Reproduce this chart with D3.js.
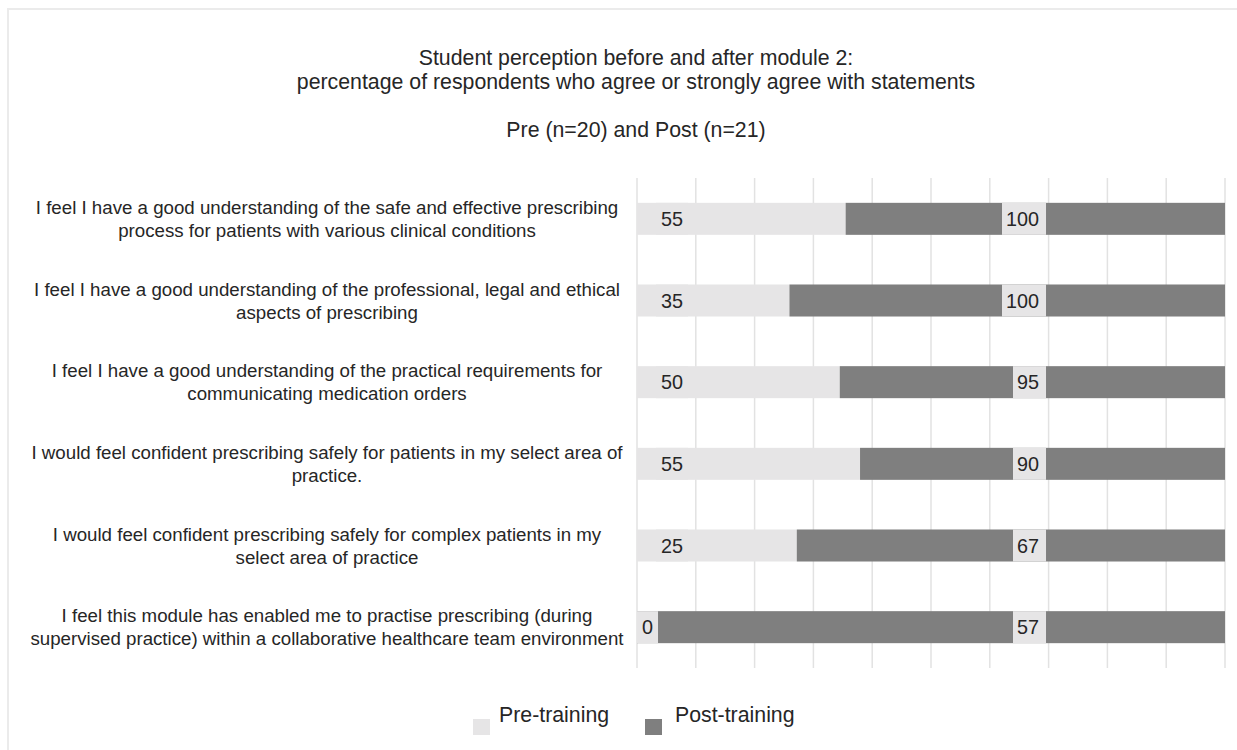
<!DOCTYPE html>
<html>
<head>
<meta charset="utf-8">
<script src="https://cdn.jsdelivr.net/npm/d3@7"></script>
<style>
	body { margin: 0; background: #fff; }
	svg { font-family: "Liberation Sans", Arial, sans-serif; }
	.title { font-size: 21.3px; fill: #262626; }
	.catLabel { font-size: 18.7px; fill: #262626; }
	.valLabel { font-size: 19.8px; fill: #262626; }
	.legendText { font-size: 21.3px; fill: #262626; }
	.grid { stroke: #e2e2e2; stroke-width: 1.5; }
</style>
</head>
<body>
<svg id="chart" width="1237" height="750"></svg>
<script>
// statements (line breaks as in the original chart)
var categories = [
	"I feel I have a good understanding of the safe and effective prescribing\nprocess for patients with various clinical conditions",
	"I feel I have a good understanding of the professional, legal and ethical\naspects of prescribing",
	"I feel I have a good understanding of the practical requirements for\ncommunicating medication orders",
	"I would feel confident prescribing safely for patients in my select area of\npractice.",
	"I would feel confident prescribing safely for complex patients in my\nselect area of practice",
	"I feel this module has enabled me to practise prescribing (during\nsupervised practice) within a collaborative healthcare team environment"
];
var preValues  = [55, 35, 50, 55, 25, 0];
var postValues = [100, 100, 95, 90, 67, 57];
var seriesNames = ["Pre-training", "Post-training"];
var titleLines = [
	"Student perception before and after module 2:",
	"percentage of respondents who agree or strongly agree with statements",
	"Pre (n=20) and Post (n=21)"
];

var preColor = '#e6e5e6',
	postColor = '#7f7f7f';

var svg = d3.select('#chart');

// outer frame
svg.append('rect')
	.attr('x', 8)
	.attr('y', 9)
	.attr('width', 1240)
	.attr('height', 760)
	.attr('fill', 'none')
	.attr('stroke', '#ebebeb')
	.attr('stroke-width', 2);

// title
svg.selectAll('text.title')
	.data(titleLines)
	.enter()
	.append('text')
	.attr('class', 'title')
	.attr('x', 636)
	.attr('y', (d, i) => [65, 89, 137][i])
	.attr('text-anchor', 'middle')
	.text(d => d);

var rows = categories.map(function(c, i) {
	var total = preValues[i] + postValues[i];
	return {cat: c, pre: preValues[i], post: postValues[i], preShare: preValues[i] / total};
});

// 100% stacked scale
var x = d3.scaleLinear()
	.domain([0, 1])
	.range([637, 1225]);

var y = d3.scaleBand()
	.domain(categories)
	.range([178, 668])
	.paddingInner(0.608)
	.paddingOuter(0.304);

// gridlines
svg.selectAll('line.grid')
	.data(x.ticks(10))
	.enter()
	.append('line')
	.attr('class', 'grid')
	.attr('x1', d => x(d))
	.attr('x2', d => x(d))
	.attr('y1', 178)
	.attr('y2', 668);

var rowG = svg.selectAll('g.row')
	.data(rows)
	.enter()
	.append('g')
	.attr('class', 'row')
	.attr('transform', d => `translate(0,${y(d.cat)})`);

rowG.append('rect')
	.attr('x', x(0))
	.attr('width', d => x(d.preShare) - x(0))
	.attr('height', y.bandwidth())
	.attr('fill', preColor);

rowG.append('rect')
	.attr('x', d => x(d.preShare))
	.attr('width', d => x(1) - x(d.preShare))
	.attr('height', y.bandwidth())
	.attr('fill', postColor);

// pre labels (inside base)
var preLab = rowG.append('g');
preLab.append('rect')
	.attr('fill', preColor)
	.attr('height', y.bandwidth());
preLab.append('text')
	.attr('class', 'valLabel')
	.attr('x', d => x(0) + (d.pre > 0 ? 24 : 5))
	.attr('y', y.bandwidth() / 2)
	.attr('dy', '0.36em')
	.text(d => d.pre);
preLab.each(function() {
	var t = d3.select(this).select('text');
	var w = t.node().getComputedTextLength();
	d3.select(this).select('rect')
		.attr('x', +t.attr('x') - 5)
		.attr('width', w + 10);
});

// post labels
var postLab = rowG.append('g');
postLab.append('rect')
	.attr('fill', preColor)
	.attr('height', y.bandwidth());
postLab.append('text')
	.attr('class', 'valLabel')
	.attr('x', x(0.6837))
	.attr('y', y.bandwidth() / 2)
	.attr('dy', '0.36em')
	.attr('text-anchor', 'end')
	.text(d => d.post);
postLab.each(function() {
	var t = d3.select(this).select('text');
	var w = t.node().getComputedTextLength();
	d3.select(this).select('rect')
		.attr('x', +t.attr('x') - w - 4)
		.attr('width', w + 11);
});

// category labels
svg.selectAll('text.catLabel')
	.data(rows)
	.enter()
	.append('text')
	.attr('class', 'catLabel')
	.attr('text-anchor', 'middle')
	.attr('transform', d => `translate(327,${y(d.cat) + y.bandwidth() / 2})`)
	.selectAll('tspan')
	.data(d => d.cat.split('\n'))
	.enter()
	.append('tspan')
	.attr('x', 0)
	.attr('y', (d, i) => -5 + i * 23)
	.text(d => d);

// legend
var legend = svg.selectAll('g.legend')
	.data(seriesNames)
	.enter()
	.append('g')
	.attr('class', 'legend')
	.attr('transform', (d, i) => `translate(${[473, 645][i]},0)`);

legend.append('rect')
	.attr('y', 719)
	.attr('width', 17)
	.attr('height', 16)
	.attr('fill', (d, i) => i == 0 ? preColor : postColor);

legend.append('text')
	.attr('class', 'legendText')
	.attr('x', (d, i) => [26, 30][i])
	.attr('y', 722)
	.text(d => d);
</script>
</body>
</html>
